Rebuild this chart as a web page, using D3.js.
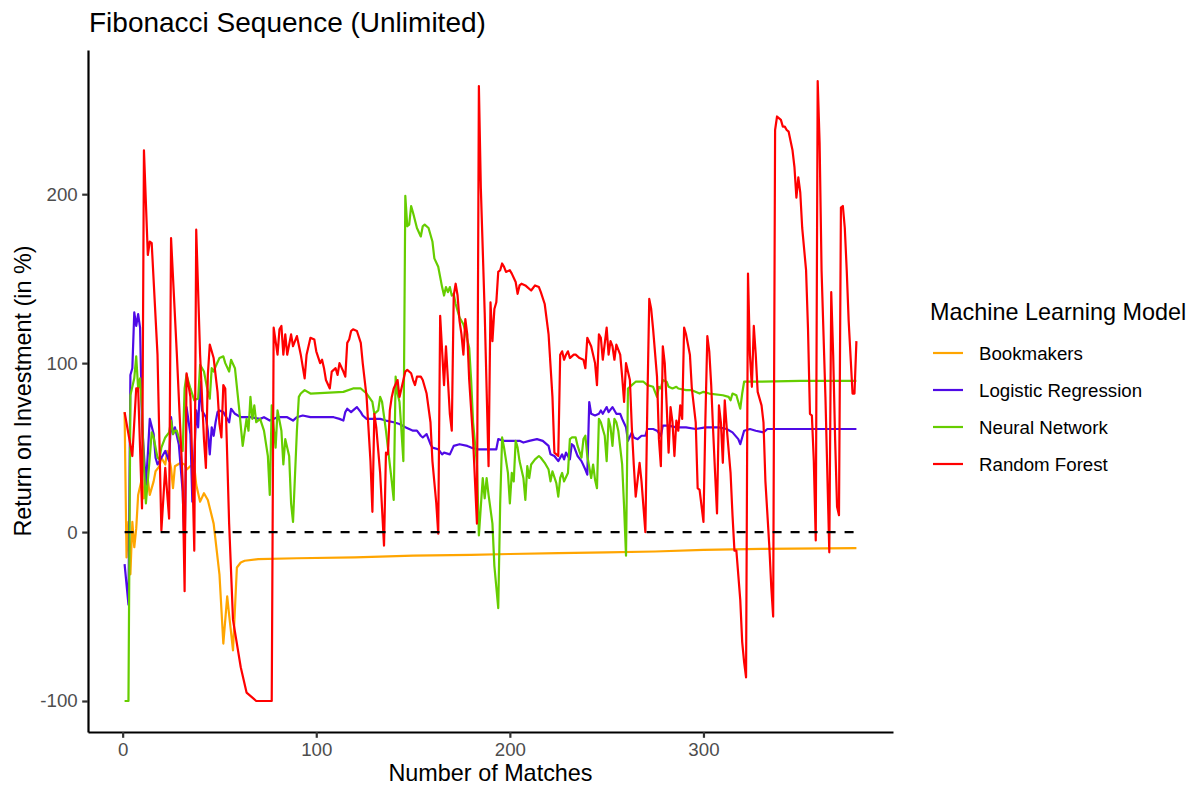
<!DOCTYPE html>
<html>
<head>
<meta charset="utf-8">
<script src="https://cdn.jsdelivr.net/npm/d3@7"></script>
<style>
  body { margin: 0; background: #fff; }
  svg { font-family: 'Liberation Sans', Arial, sans-serif; display: block; }
</style>
</head>
<body>
<div id="chart"></div>
<script>
// texts
const title = 'Fibonacci Sequence (Unlimited)'
const xLabel = 'Number of Matches'
const yLabel = 'Return on Investment (in %)'
const legendTitle = 'Machine Learning Model'
const models = ['Bookmakers', 'Logistic Regression', 'Neural Network', 'Random Forest']
const xTicks = [0, 100, 200, 300]
const yTicks = [-100, 0, 100, 200]

// [match, ROI %]
const bookmakers = [[1,71],[2,-15],[3,6],[4,-25],[5,6],[6,-9],[7,2],[8,22],[10,32],[11,20],[13,31],[14,22],[16,30],[17,36],[19,39],[20,44],[22,40],[23,48],[24,44],[25,38],[26,26],[27,39],[30,41],[32,40],[33,37],[35,39],[37,39],[38,28],[40,18],[42,23],[44,19],[47,5],[50,-25],[52,-66],[54,-38],[55,-49],[57,-70],[59,-21],[61,-18],[63,-17],[70,-16],[90,-15.5],[120,-15],[150,-14],[180,-13.5],[200,-13],[225,-12.5],[250,-12],[275,-11.5],[300,-10.5],[330,-10],[379,-9.5]]

const logisticRegression = [[1,-19],[3,-43],[4,93],[5,97],[6,130],[7,122],[8,129],[9,121],[10,64],[12,28],[13,46],[14,67],[16,58],[17,44],[18,40],[20,44],[22,48],[24,42],[25,68],[26,58],[27,62],[29,52],[31,24],[32,-11],[33,74],[35,58],[36,18],[38,72],[39,62],[40,89],[41,72],[43,68],[44,60],[45,46],[46,62],[47,57],[48,65],[49,71],[50,72],[52,71],[55,65],[56,73],[58,70],[61,68],[66,68],[71,67],[73,68],[76,66],[80,68],[85,68],[88,66],[90,68],[93,69],[97,68],[102,68],[109,68],[112,67],[114,66],[115,71],[116,73],[118,71],[119,72],[121,74],[123,71],[124,69],[126,67],[133,67],[136,66],[140,65],[143,64],[146,62],[148,61],[150,60],[152,60],[154,57],[155,56],[157,58],[159,52],[160,50],[163,49],[165,46],[166,47],[169,46],[171,51],[174,52],[178,51],[180,50],[183,49],[193,49],[194,55],[197,54],[205,54],[207,53],[210,54],[214,55],[217,54],[220,51],[221,46],[223,45],[225,42],[227,46],[228,43],[229,47],[231,43],[232,52],[233,51],[235,45],[237,42],[239,37],[240,34],[241,77],[242,70],[244,69],[246,70],[247,72],[248,70],[250,74],[251,71],[253,74],[255,70],[257,70],[258,67],[260,62],[261,54],[263,59],[264,56],[266,55],[268,57],[270,57],[271,61],[274,61],[276,60],[278,57],[279,63],[282,63],[286,62],[291,62],[296,61],[301,62],[308,62],[312,61],[315,59],[318,55],[319,52],[321,60],[324,61],[327,60],[331,59],[333,61],[338,61],[360,61],[379,61]]

const neuralNetwork = [[1,-100],[3,-100],[4,81],[6,91],[7,104],[8,85],[9,91],[10,73],[11,38],[12,17],[14,44],[15,59],[16,56],[18,44],[19,43],[20,50],[22,56],[24,59],[25,66],[26,58],[27,60],[28,60],[31,48],[32,85],[33,93],[35,85],[37,78],[39,79],[40,99],[42,95],[44,83],[45,79],[46,97],[47,95],[48,98],[50,103],[52,104],[53,100],[55,95],[56,102],[58,97],[60,75],[62,51],[64,67],[65,60],[66,80],[67,67],[68,75],[69,65],[71,67],[73,60],[75,45],[76,22],[77,75],[78,62],[79,50],[80,72],[82,60],[83,40],[84,55],[86,45],[87,17],[88,6],[90,60],[91,80],[92,82],[94,84],[97,82],[114,83],[119,85],[123,85],[126,82],[129,77],[130,70],[132,72],[133,80],[134,77],[136,60],[137,50],[139,30],[140,19],[141,92],[142,82],[143,77],[144,60],[145,42],[146,199],[147,181],[148,182],[149,193],[150,189],[152,180],[154,175],[155,181],[156,182],[158,180],[160,172],[161,162],[163,157],[165,145],[166,140],[167,145],[168,142],[169,145],[170,140],[171,141],[172,135],[174,127],[176,123],[177,119],[179,109],[180,90],[181,65],[183,40],[184,-2],[186,32],[187,20],[188,32],[189,22],[191,5],[192,-20],[194,-45],[195,17],[196,56],[197,50],[199,35],[200,17],[201,35],[202,30],[203,54],[204,50],[205,42],[207,32],[208,19],[209,39],[210,32],[211,40],[213,43],[215,45],[216,44],[218,41],[220,37],[221,30],[222,36],[224,29],[225,21],[226,32],[227,35],[228,30],[230,35],[231,55],[232,56],[234,56],[235,51],[237,44],[238,55],[239,57],[240,45],[242,32],[243,40],[244,31],[245,26],[246,67],[247,65],[249,57],[250,42],[251,67],[252,62],[253,51],[254,67],[255,65],[256,60],[258,40],[259,15],[260,-14],[261,85],[263,87],[265,89],[269,89],[271,87],[274,86],[275,83],[276,80],[277,86],[278,85],[279,90],[281,89],[282,86],[284,85],[286,86],[287,85],[291,84],[294,84],[298,82],[300,83],[303,82],[310,81],[313,80],[314,78],[315,82],[317,81],[318,77],[319,73],[320,82],[321,89],[327,89],[350,89.5],[379,89.5]]

const randomForest = [[1,71],[5,45],[7,85],[8,85],[10,14],[11,226],[13,164],[14,172],[15,171],[18,105],[20,1],[22,38],[24,8],[25,174],[28,105],[31,30],[32,-35],[33,94],[35,80],[36,38],[37,-11],[38,179],[40,105],[42,55],[43,38],[44,93],[45,111],[47,103],[49,83],[50,64],[51,56],[52,87],[53,85],[55,5],[57,-52],[61,-80],[64,-95],[69,-100],[77,-100],[78,121],[80,105],[81,120],[82,122],[83,105],[84,117],[85,105],[87,117],[88,110],[90,116],[92,105],[94,91],[95,105],[97,115],[99,114],[100,107],[102,100],[103,102],[104,97],[105,90],[107,85],[108,95],[110,97],[111,93],[112,100],[114,95],[115,92],[116,112],[117,114],[118,119],[119,120],[121,119],[123,112],[124,100],[126,80],[128,42],[129,12],[130,70],[131,62],[133,35],[135,-8],[136,47],[137,46],[138,72],[139,80],[140,85],[142,90],[143,80],[145,90],[146,95],[147,96],[149,94],[150,90],[151,87],[152,92],[154,92],[155,90],[157,82],[159,65],[160,42],[162,17],[163,-1],[164,128],[166,87],[167,110],[168,90],[169,70],[170,60],[171,140],[172,147],[173,140],[174,125],[175,117],[176,105],[177,126],[178,117],[179,90],[181,55],[183,5],[184,264],[185,204],[187,130],[189,39],[190,136],[191,113],[192,132],[193,136],[194,154],[195,155],[196,159],[197,157],[198,154],[200,155],[201,153],[203,148],[204,141],[205,146],[206,147],[208,146],[209,145],[211,143],[213,146],[215,145],[216,142],[218,135],[220,117],[222,80],[223,47],[225,45],[226,105],[227,107],[228,102],[229,105],[230,107],[231,103],[233,105],[234,105],[236,103],[238,102],[239,97],[240,115],[242,110],[244,100],[245,87],[246,117],[247,115],[248,102],[250,121],[251,105],[252,113],[253,110],[254,102],[255,111],[257,105],[258,92],[259,77],[260,100],[262,90],[263,62],[264,40],[265,21],[267,41],[268,30],[270,0],[271,75],[272,138],[273,132],[274,120],[276,92],[277,55],[278,39],[279,110],[280,100],[281,75],[282,47],[283,74],[284,65],[285,45],[286,66],[287,60],[288,75],[289,67],[290,121],[291,117],[293,105],[294,85],[296,65],[297,26],[298,25],[300,6],[301,67],[302,116],[303,107],[304,87],[305,60],[306,35],[307,11],[308,75],[309,65],[310,41],[311,78],[312,62],[314,35],[315,10],[316,-11],[317,-11],[319,-40],[320,-65],[321,-77],[322,-86],[323,153],[324,105],[325,86],[326,122],[327,105],[328,83],[330,75],[331,65],[332,30],[334,-8],[335,-32],[336,-50],[337,238],[338,246],[340,244],[341,240],[342,240],[343,238],[344,237],[346,226],[347,216],[348,198],[349,210],[350,201],[351,180],[353,155],[354,120],[355,70],[356,69],[357,42],[358,-5],[359,267],[360,230],[361,155],[363,80],[365,-12],[366,142],[367,105],[368,55],[369,15],[370,10],[371,192],[372,193],[373,180],[374,155],[375,125],[377,82],[378,82],[379,113]]

const colors = ['#ffa500', '#4f0ae6', '#66cd00', '#ff0000']

const width = 1198
const height = 789
const panel = { left: 88, right: 893, top: 50, bottom: 732 }

const series = [bookmakers, logisticRegression, neuralNetwork, randomForest]
const allPoints = series.flat()

// ggplot-like 5% expansion on both axes
function expand (ext) {
  const pad = (ext[1] - ext[0]) * 0.05
  return [ext[0] - pad, ext[1] + pad]
}

const x = d3.scaleLinear()
  .domain(expand(d3.extent(allPoints, d => d[0])))
  .range([panel.left, panel.right])
const y = d3.scaleLinear()
  .domain(expand(d3.extent(allPoints, d => d[1])))
  .range([panel.bottom, panel.top])

const svg = d3.select('#chart')
  .append('svg')
  .attr('width', width)
  .attr('height', height)

svg.append('rect')
  .attr('width', width)
  .attr('height', height)
  .attr('fill', '#fff')

const line = d3.line()
  .x(d => x(d[0]))
  .y(d => y(d[1]))

// the four models, red on top
svg.append('g')
  .selectAll('path')
  .data(series)
  .enter()
  .append('path')
  .attr('d', d => line(d))
  .attr('fill', 'none')
  .attr('stroke', (d, i) => colors[i])
  .attr('stroke-width', 2.2)
  .attr('stroke-linejoin', 'round')

// break-even line
const xExt = d3.extent(allPoints, d => d[0])
svg.append('line')
  .attr('x1', x(xExt[0]))
  .attr('x2', x(xExt[1]))
  .attr('y1', y(0))
  .attr('y2', y(0))
  .attr('stroke', '#000')
  .attr('stroke-width', 2.2)
  .attr('stroke-dasharray', '9,9')

// axes (plain hyphen for negatives, like R)
const fmt = d => String(d)
const xAxis = svg.append('g')
  .attr('transform', `translate(0,${panel.bottom})`)
  .call(d3.axisBottom(x).tickValues(xTicks).tickFormat(fmt).tickSize(5.8).tickSizeOuter(0).tickPadding(4.5))
const yAxis = svg.append('g')
  .attr('transform', `translate(${panel.left},0)`)
  .call(d3.axisLeft(y).tickValues(yTicks).tickFormat(fmt).tickSize(5.8).tickSizeOuter(0).tickPadding(4.5))

;[xAxis, yAxis].forEach(g => {
  g.select('.domain').attr('stroke', '#000').attr('stroke-width', 2.2)
  g.selectAll('.tick line').attr('stroke', '#333').attr('stroke-width', 2.2)
  g.selectAll('.tick text')
    .attr('fill', '#4d4d4d')
    .style('font-size', '18.7px')
    .style('font-family', "'Liberation Sans', Arial, sans-serif")
})

// titles
svg.append('text')
  .attr('x', 89)
  .attr('y', 32)
  .style('font-size', '28px')
  .text(title)

svg.append('text')
  .attr('x', (panel.left + panel.right) / 2)
  .attr('y', 781)
  .attr('text-anchor', 'middle')
  .style('font-size', '23.4px')
  .text(xLabel)

svg.append('text')
  .attr('transform', `translate(30.5,${(panel.top + panel.bottom) / 2}) rotate(-90)`)
  .attr('text-anchor', 'middle')
  .style('font-size', '23.4px')
  .text(yLabel)

// legend
const legend = svg.append('g').attr('transform', 'translate(930,0)')
legend.append('text')
  .attr('x', 0)
  .attr('y', 320)
  .style('font-size', '23.4px')
  .text(legendTitle)

const item = legend.selectAll('.item')
  .data(models)
  .enter()
  .append('g')
  .attr('class', 'item')
  .attr('transform', (d, i) => `translate(0,${353 + i * 37})`)
item.append('line')
  .attr('x1', 3)
  .attr('x2', 33)
  .attr('stroke', (d, i) => colors[i])
  .attr('stroke-width', 2.2)
item.append('text')
  .attr('x', 49)
  .attr('dy', '0.35em')
  .style('font-size', '18.7px')
  .text(d => d)
</script>
</body>
</html>
